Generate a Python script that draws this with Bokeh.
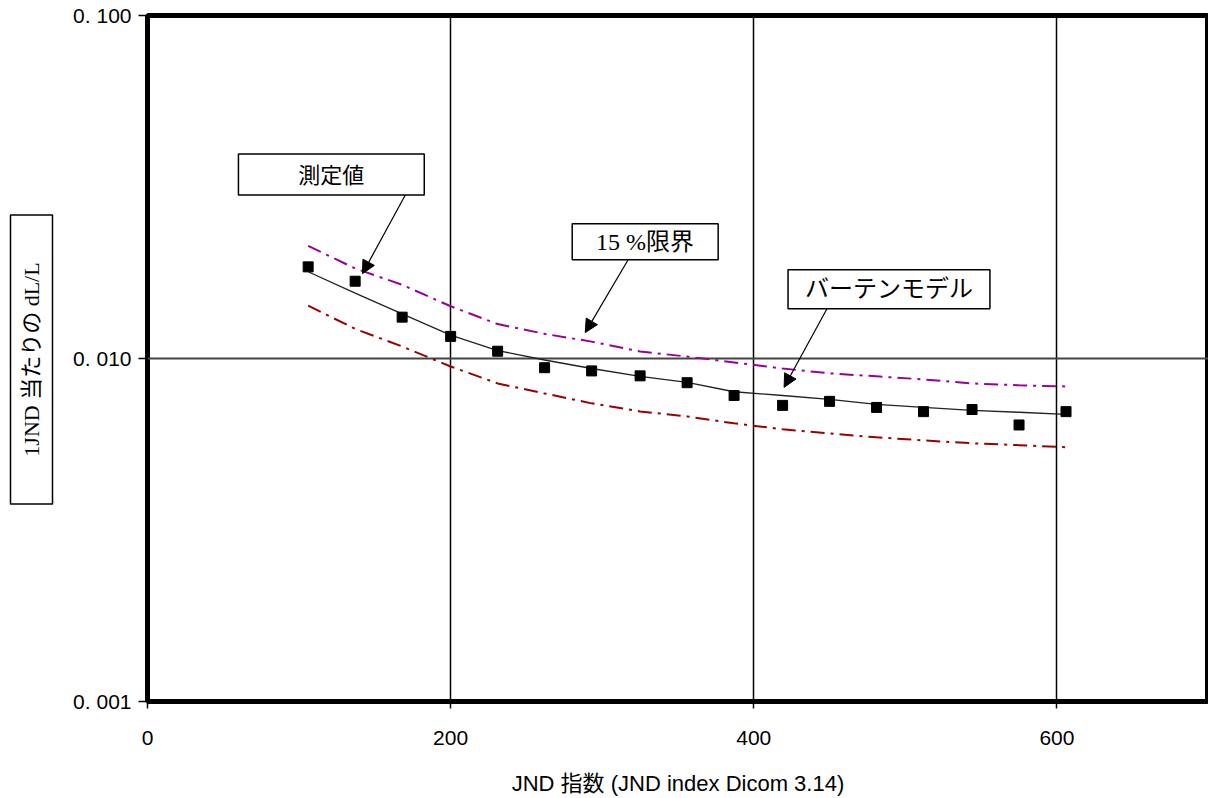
import numpy as np
from bokeh.plotting import figure
from bokeh.layouts import row
from bokeh.models import FixedTicker, CustomJSTickFormatter, Arrow, NormalHead, Range1d
from bokeh.core.properties import value
from bokeh.embed import file_html
from bokeh.resources import INLINE

# ---- data ----
jnd_index = [106, 137, 168, 200, 231, 262, 293, 325, 356, 387, 419, 450, 481, 512, 544, 575, 606]
measured = [0.0185, 0.0168, 0.0132, 0.0116, 0.0105, 0.0094, 0.0092, 0.0089, 0.0085, 0.0078,
            0.0073, 0.0075, 0.0072, 0.0070, 0.0071, 0.0064, 0.0070]
barten = [0.0179, 0.0155, 0.0135, 0.0117, 0.01055, 0.0099, 0.00935, 0.00887, 0.00852, 0.0080,
          0.0078, 0.0076, 0.00735, 0.0072, 0.00706, 0.00697, 0.00687]
upper15 = [0.0213, 0.0183, 0.0164, 0.0142, 0.0126, 0.0118, 0.0112, 0.01048, 0.01013, 0.00974,
           0.00935, 0.00905, 0.00887, 0.00869, 0.00846, 0.00835, 0.00829]
lower15 = [0.01426, 0.0122, 0.01084, 0.00948, 0.00846, 0.00791, 0.0074, 0.00701, 0.00678, 0.00647,
           0.00622, 0.00605, 0.00589, 0.00577, 0.00566, 0.00559, 0.00551]

x_ticks = [0, 200, 400, 600]
y_ticks = [0.001, 0.01, 0.1]

# callout boxes (data coords)
box_texts = ["測定値", "15 %限界", "バーテンモデル"]
box_font_sizes = ["22px", "24px", "24px"]
box_left = [60.0, 280.2, 422.6]
box_right = [182.6, 376.5, 555.8]
box_bottom = [0.02997, 0.01940, 0.01397]
box_top = [0.03945, 0.02469, 0.01814]
box_tx = [121.3, 328.3, 489.2]
box_ty = [0.03426, 0.02188, 0.01598]
arrow_x0 = [170.1, 317.1, 448.3]
arrow_y0 = [0.02997, 0.01940, 0.01397]
arrow_x1 = [141.8, 288.8, 420.0]
arrow_y1 = [0.01767, 0.0119, 0.00824]

y_title = "1JND 当たりの dL/L"
x_title = "JND 指数 (JND index Dicom 3.14)"

LEFT_W = 60
H = 798
TOP = 15
BOTTOM = 95

# ---- left strip holding the boxed y-axis title (page-pixel coordinates, y flipped) ----
lab = figure(width=LEFT_W, height=H, x_range=Range1d(0, LEFT_W), y_range=Range1d(BOTTOM, H - TOP),
             output_backend="svg", toolbar_location=None,
             x_axis_location=None, y_axis_location=None,
             min_border_left=0, min_border_right=0, min_border_top=TOP, min_border_bottom=BOTTOM)
lab.grid.visible = False
lab.outline_line_color = None
lab.background_fill_color = "white"
lab.border_fill_color = "white"
lab.quad(left=[10], right=[52], bottom=[H - 505], top=[H - 215],
         fill_color="white", line_color="black", line_width=1.5)
lab.text(x=[31], y=[H - 360], text=[y_title], angle=np.pi / 2,
         text_font=value("'Liberation Serif', 'Noto Sans CJK JP'"), text_font_size=value("22px"),
         text_align="center", text_baseline="middle", text_color="black")

# ---- main chart ----
p = figure(width=1208 - LEFT_W, height=H, x_range=(0, 700), y_range=(0.001, 0.1),
           y_axis_type="log", output_backend="svg", toolbar_location=None,
           min_border_left=147 - LEFT_W, min_border_right=0, min_border_top=TOP, min_border_bottom=BOTTOM)
p.background_fill_color = "white"
p.border_fill_color = "white"
p.outline_line_color = "black"
p.outline_line_width = 5

p.xaxis.ticker = FixedTicker(ticks=x_ticks)
p.yaxis.ticker = FixedTicker(ticks=y_ticks)
p.yaxis.formatter = CustomJSTickFormatter(code="return tick.toFixed(3).replace('.', '. ');")
for ax in (p.xaxis[0], p.yaxis[0]):
    ax.axis_line_color = None
    ax.major_tick_line_color = "black"
    ax.major_tick_line_width = 1.5
    ax.major_tick_in = 0
    ax.minor_tick_line_color = None
    ax.major_label_text_font = "Liberation Sans"
    ax.major_label_text_font_size = "21px"
    ax.major_label_text_color = "black"
    ax.major_label_text_line_height = 1.0
p.yaxis.major_tick_out = 9
p.yaxis.major_label_standoff = 7
p.xaxis.major_tick_out = 7
p.xaxis.major_label_standoff = 22
p.xaxis.axis_label = x_title
p.xaxis.axis_label_text_font = "Liberation Sans, Noto Sans CJK JP"
p.xaxis.axis_label_text_font_style = "normal"
p.xaxis.axis_label_text_font_size = "22px"
p.xaxis.axis_label_text_color = "black"
p.xaxis.axis_label_text_line_height = 1.0
p.xaxis.axis_label_standoff = 23

p.xgrid.ticker = FixedTicker(ticks=[200, 400, 600])
p.xgrid.grid_line_color = "black"
p.xgrid.grid_line_width = 1.5
p.ygrid.ticker = FixedTicker(ticks=[0.01])
p.ygrid.grid_line_color = "#444444"
p.ygrid.grid_line_width = 2

p.line(jnd_index, upper15, line_color="#990099", line_width=2, line_dash="14 6 3 6")
p.line(jnd_index, lower15, line_color="#990000", line_width=2, line_dash="14 6 3 6")
p.line(jnd_index, barten, line_color="#222222", line_width=1.3)
p.scatter(jnd_index, measured, marker="square", size=10, color="black")

p.quad(left=box_left, right=box_right, bottom=box_bottom, top=box_top,
       fill_color="white", line_color="black", line_width=1.5)
p.text(x=box_tx, y=box_ty, text=box_texts,
       text_font=value("'Liberation Serif', 'Noto Sans CJK JP'"), text_font_size=box_font_sizes,
       text_align="center", text_baseline="middle", text_color="black")
for i in range(3):
    p.add_layout(Arrow(end=NormalHead(size=13, fill_color="black", line_color="black"),
                       x_start=arrow_x0[i], y_start=arrow_y0[i], x_end=arrow_x1[i], y_end=arrow_y1[i],
                       line_color="black", line_width=1.2))

layout = row(lab, p, spacing=0)
open("out.html", "w").write(file_html(layout, INLINE))
